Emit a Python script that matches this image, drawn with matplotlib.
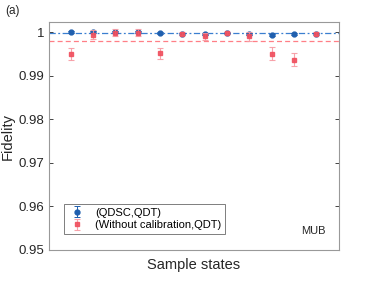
import numpy as np
import matplotlib
matplotlib.use('Agg')
import matplotlib.pyplot as plt

plt.rcParams['font.family'] = ['Liberation Sans', 'DejaVu Sans']

states = np.arange(1, 13)
fid_qdsc = [1.0000, 1.0000, 1.0000, 1.0000, 0.9998, 0.9996, 0.9995, 0.9998, 0.9995, 0.9994, 0.9995, 0.9996]
err_qdsc = [0.0002, 0.0002, 0.0002, 0.0002, 0.0002, 0.0002, 0.0002, 0.0002, 0.0002, 0.0002, 0.0002, 0.0002]
fid_nocal = [0.9949, 0.9994, 0.9998, 0.9998, 0.9951, 0.9996, 0.9990, 0.9998, 0.9990, 0.9950, 0.9936, 0.9996]
err_nocal = [0.0014, 0.0010, 0.0008, 0.0008, 0.0012, 0.0003, 0.0008, 0.0003, 0.0010, 0.0015, 0.0015, 0.0003]

blue = '#1f5fae'
red = '#f0505f'

fig = plt.figure(figsize=(3.74, 2.81), dpi=100)
ax = fig.add_axes([48.5 / 374, 31 / 281, 290 / 374, 228 / 281])

ax.axhline(np.mean(fid_qdsc), color='#3a7fd0', ls=(0, (5, 2, 1.5, 2)), lw=0.9, zorder=1)
ax.axhline(np.mean(fid_nocal), color='#ff7f86', ls=(0, (4, 2.5)), lw=0.9, zorder=1)

ax.errorbar(states, fid_qdsc, yerr=err_qdsc, fmt='o', ms=3.5, color=blue, ecolor=blue,
            elinewidth=0.7, capsize=2, capthick=0.7, label='(QDSC,QDT)', zorder=3)
ax.errorbar(states, fid_nocal, yerr=err_nocal, fmt='s', ms=3, color=red, ecolor='#f79aa2',
            elinewidth=0.8, capsize=2, capthick=0.8, alpha=0.9,
            label='(Without calibration,QDT)', zorder=4)

ax.set_xlim(0, 13)
ax.set_ylim(0.95, 1.0023)
ax.set_xticks([])
ax.set_yticks([0.95, 0.96, 0.97, 0.98, 0.99, 1.0])
ax.set_yticklabels(['0.95', '0.96', '0.97', '0.98', '0.99', '1'])
ax.tick_params(axis='y', direction='in', length=3, width=0.6, labelsize=9.5,
               colors='#262626', right=True, pad=3)
for s in ax.spines.values():
    s.set_color('#999999')
    s.set_linewidth(0.8)

ax.set_xlabel('Sample states', fontsize=10.5, color='#262626', labelpad=6)
ax.set_ylabel('Fidelity', fontsize=10.5, color='#262626', labelpad=3)

leg = ax.legend(loc='lower left', bbox_to_anchor=(0.035, 0.045), fontsize=8,
                frameon=True, fancybox=False, edgecolor='#444444', handlelength=1.6,
                handletextpad=0.8, borderpad=0.35, labelspacing=0.25)
leg.get_frame().set_linewidth(0.6)

ax.text(0.87, 0.07, 'MUB', transform=ax.transAxes, fontsize=8, color='#262626')
fig.text(5 / 374, 1 - 11 / 281, '(a)', fontsize=8.5, color='#262626', va='center')

fig.savefig('out.png', dpi=100)
